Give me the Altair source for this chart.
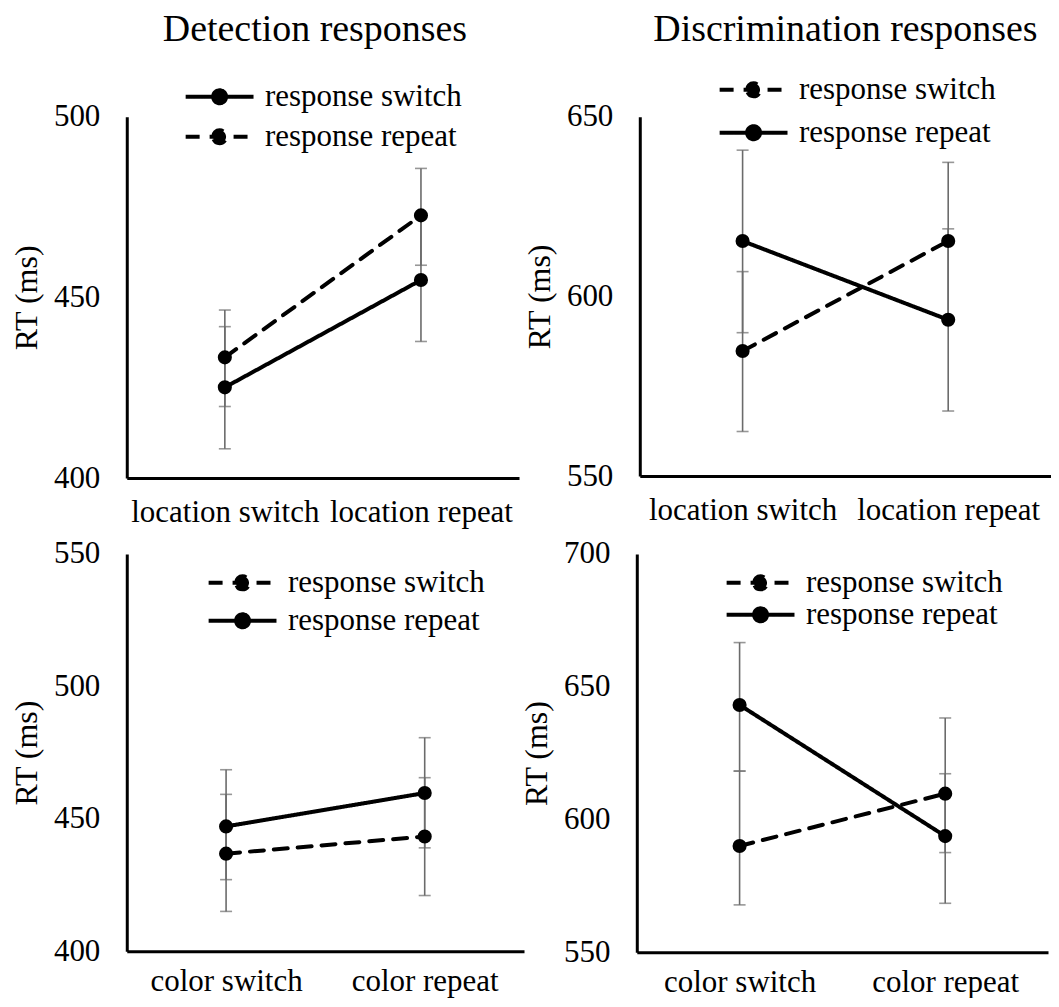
import altair as alt
import pandas as pd

SERIES = ["response switch", "response repeat"]
LOC_CATS = ["location switch", "location repeat"]
COL_CATS = ["color switch", "color repeat"]

# Detection responses, location
det_loc_sw = [425.1, 454.8]
det_loc_sw_lo = [408.1, 437.8]
det_loc_sw_hi = [441.9, 471.8]
det_loc_rp = [433.4, 472.7]
det_loc_rp_lo = [419.8, 458.9]
det_loc_rp_hi = [446.5, 485.7]

# Discrimination responses, location
dis_loc_sw = [584.8, 615.4]
dis_loc_sw_lo = [562.4, 593.5]
dis_loc_sw_hi = [606.9, 637.3]
dis_loc_rp = [615.4, 593.5]
dis_loc_rp_lo = [589.9, 568.1]
dis_loc_rp_hi = [640.7, 618.8]

# Detection responses, color
det_col_sw = [436.8, 443.3]
det_col_sw_lo = [415.0, 421.0]
det_col_sw_hi = [459.2, 465.5]
det_col_rp = [447.1, 459.7]
det_col_rp_lo = [427.0, 439.0]
det_col_rp_hi = [468.5, 480.6]

# Discrimination responses, color
dis_col_sw = [590.0, 609.7]
dis_col_sw_lo = [567.8, 587.5]
dis_col_sw_hi = [618.2, 638.2]
dis_col_rp = [643.1, 593.7]
dis_col_rp_lo = [618.2, 568.4]
dis_col_rp_hi = [666.6, 617.2]

SOLID = [1, 0]
DASHED = [14, 10]
FONT = "Liberation Serif, Tinos, 'Times New Roman', 'DejaVu Serif', serif"
SYMBOL = "M-1,0L5.8,0M1.75,0A0.65,0.65,0,1,1,3.05,0A0.65,0.65,0,1,1,1.75,0Z"


def make_df(cats, sw, sw_lo, sw_hi, rp, rp_lo, rp_hi):
    rows = []
    for i, c in enumerate(cats):
        rows.append({"cond": c, "series": SERIES[0], "rt": sw[i], "lo": sw_lo[i], "hi": sw_hi[i]})
    for i, c in enumerate(cats):
        rows.append({"cond": c, "series": SERIES[1], "rt": rp[i], "lo": rp_lo[i], "hi": rp_hi[i]})
    return pd.DataFrame(rows)


def panel(df, cats, dashes, ydom, yticks, w, h, lx, ly, rowpad, xpad, title=None, toff=0, tdx=0):
    base = alt.Chart(df)
    xenc = alt.X("cond:N", sort=cats, scale=alt.Scale(type="point", padding=0.5),
                 axis=alt.Axis(title=None, labelAngle=0, labelOverlap=False,
                               labelLimit=400, labelPadding=xpad))
    yscale = alt.Scale(domain=ydom, nice=False, zero=False)
    yaxis = alt.Axis(values=yticks, title="RT (ms)")
    err = base.mark_errorbar(ticks=True, size=12, thickness=1.6, color="#6b6b6b").encode(
        x=xenc,
        y=alt.Y("lo:Q", scale=yscale, axis=yaxis),
        y2=alt.Y2("hi:Q"),
    )
    line = base.mark_line(color="black", strokeWidth=4, strokeCap="round").encode(
        x=xenc,
        y=alt.Y("rt:Q", scale=yscale, axis=yaxis),
        strokeDash=alt.StrokeDash(
            "series:N",
            sort=SERIES,
            scale=alt.Scale(domain=SERIES, range=dashes),
            legend=alt.Legend(
                title=None, orient="none", legendX=lx, legendY=ly,
                symbolType=SYMBOL, symbolSize=400, symbolStrokeWidth=4,
                symbolFillColor="black", symbolStrokeColor="black",
                labelFont=FONT, labelFontSize=31, labelColor="black",
                labelOffset=54, rowPadding=rowpad, labelLimit=400,
            ),
        ),
    )
    pts = base.mark_circle(color="black", size=200, opacity=1).encode(
        x=xenc,
        y=alt.Y("rt:Q", scale=yscale, axis=yaxis),
    )
    ch = alt.layer(err, line, pts).properties(width=w, height=h)
    if title:
        ch = ch.properties(title=alt.TitleParams(
            title, font=FONT, fontSize=38, fontWeight="normal", color="black",
            anchor="middle", offset=toff, dx=tdx))
    return ch


p1 = panel(make_df(LOC_CATS, det_loc_sw, det_loc_sw_lo, det_loc_sw_hi, det_loc_rp, det_loc_rp_lo, det_loc_rp_hi),
           LOC_CATS, [SOLID, DASHED], [400, 500], [400, 450, 500], 393, 362, 53.5, -35.5, 8, 20,
           "Detection responses", 32, -8)
p2 = panel(make_df(LOC_CATS, dis_loc_sw, dis_loc_sw_lo, dis_loc_sw_hi, dis_loc_rp, dis_loc_rp_lo, dis_loc_rp_hi),
           LOC_CATS, [DASHED, SOLID], [550, 650], [550, 600, 650], 412, 360, 74.5, -42.5, 11, 20,
           "Discrimination responses", 25)
p3 = panel(make_df(COL_CATS, det_col_sw, det_col_sw_lo, det_col_sw_hi, det_col_rp, det_col_rp_lo, det_col_rp_hi),
           COL_CATS, [DASHED, SOLID], [400, 550], [400, 450, 500, 550], 398, 398, 76.5, 13.5, 6, 15)
p4 = panel(make_df(COL_CATS, dis_col_sw, dis_col_sw_lo, dis_col_sw_hi, dis_col_rp, dis_col_rp_lo, dis_col_rp_hi),
           COL_CATS, [DASHED, SOLID], [550, 700], [550, 600, 650, 700], 412, 399, 84.5, 13.5, 0, 15)

row1 = alt.hconcat(p1, p2, spacing=4).resolve_scale(x="independent", y="independent", strokeDash="independent").resolve_legend(strokeDash="independent")
row2 = alt.hconcat(p3, p4, spacing=-4).resolve_scale(x="independent", y="independent", strokeDash="independent").resolve_legend(strokeDash="independent")

chart = alt.vconcat(row1, row2, spacing=10).resolve_scale(
    x="independent", y="independent", strokeDash="independent"
).resolve_legend(strokeDash="independent").properties(
    padding={"left": 2, "top": 2, "right": 0, "bottom": 0}
).configure_view(
    stroke=None
).configure_axis(
    domainColor="black", domainWidth=3, ticks=False, grid=False,
    labelFont=FONT, labelFontSize=31, labelColor="black",
    titleFont=FONT, titleFontSize=32, titleFontWeight="normal", titleColor="black",
).configure_axisY(labelPadding=27, titlePadding=10)

chart.save("out.html", embed_options={"renderer": "svg", "actions": False})
